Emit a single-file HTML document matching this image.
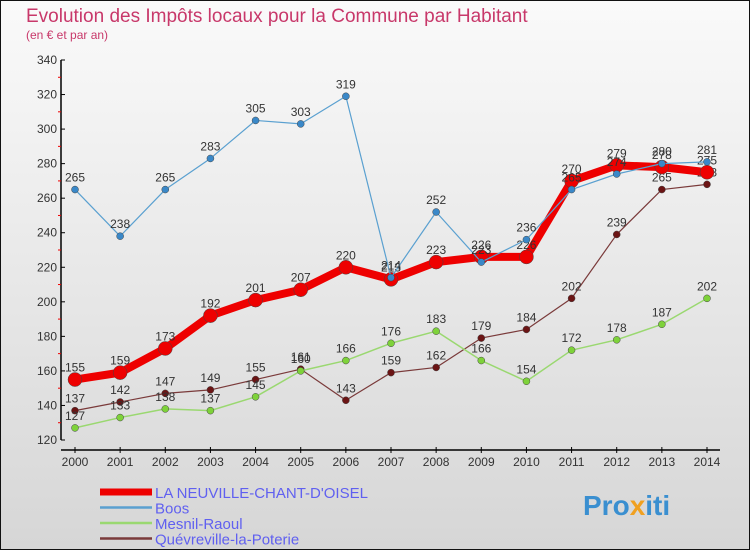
<!DOCTYPE html>
<html><head><meta charset="utf-8"><style>
body{margin:0}
#c{width:750px;height:550px;position:relative;overflow:hidden;font-family:"Liberation Sans",sans-serif}
</style></head><body>
<div id="c">
<svg id="s" width="750" height="550" xmlns="http://www.w3.org/2000/svg">
<defs><linearGradient id="bg" x1="0" y1="0" x2="0" y2="1"><stop offset="0" stop-color="#fafafa"/><stop offset="1" stop-color="#d6d6d6"/></linearGradient></defs>
<rect x="0.5" y="0.5" width="749" height="549" fill="url(#bg)" stroke="#111"/>
<text x="26" y="22" font-size="19" fill="#c8386a">Evolution des Impôts locaux pour la Commune par Habitant</text>
<text x="26" y="39" font-size="12" fill="#c8386a">(en € et par an)</text>
<g id="axes"></g><g id="series"></g><g id="legend"></g>
<text x="583" y="515" font-size="28" font-weight="bold" fill="#3a8fd0">Pro<tspan fill="#f0a020">x</tspan>iti</text>
</svg></div>
<script>
const years=[2000,2001,2002,2003,2004,2005,2006,2007,2008,2009,2010,2011,2012,2013,2014];
const yTicks=[120,140,160,180,200,220,240,260,280,300,320,340];
const neuville=[155,159,173,192,201,207,220,213,223,226,226,270,279,278,275];
const boos=[265,238,265,283,305,303,319,214,252,223,236,265,274,280,281];
const mesnil=[127,133,138,137,145,160,166,176,183,166,154,172,178,187,202];
const quev=[137,142,147,149,155,161,143,159,162,179,184,202,239,265,268];
const NS="http://www.w3.org/2000/svg";
const X=i=>75+i*(707-75)/(years.length-1);
const Y=v=>440-(v-120)*(380/220);
function mk(t,a,p){const e=document.createElementNS(NS,t);for(const k in a)e.setAttribute(k,a[k]);p.appendChild(e);return e;}
const ax=document.getElementById('axes');
let l=mk('line',{x1:61,y1:Y(340),x2:61,y2:440,stroke:'#000','stroke-width':1.5},ax);


yTicks.forEach(v=>{
 mk('line',{x1:61,y1:Y(v),x2:65,y2:Y(v),stroke:'#000'},ax);
 if(v<340)mk('line',{x1:58,y1:Y(v+10),x2:61,y2:Y(v+10),stroke:'#e00'},ax);
 const t=mk('text',{x:57,y:Y(v)+4,'font-size':12,fill:'#333','text-anchor':'end'},ax);t.textContent=v;
 
 
});
l=mk('line',{x1:61,y1:450,x2:720,y2:450,stroke:'#000','stroke-width':1.5},ax);


years.forEach((y,i)=>{
 mk('line',{x1:X(i),y1:447,x2:X(i),y2:453,stroke:'#000'},ax);
 const t=mk('text',{x:X(i),y:466,'font-size':12,fill:'#333','text-anchor':'middle'},ax);t.textContent=y;
 
 
});
const S=[
 {n:'Quévreville-la-Poterie',d:quev,c:'#7a3a3a',m:'#6b1414',w:1.2,r:3.5,k:'quevreville'},
 {n:'Mesnil-Raoul',d:mesnil,c:'#9ad870',m:'#7ed23a',w:1.5,r:3.5,k:'mesnil-raoul'},
 {n:'LA NEUVILLE-CHANT-D\'OISEL',d:neuville,c:'#ee0000',m:'#ee0000',w:8,r:7,k:'la-neuville'},
 {n:'Boos',d:boos,c:'#5aa0d0',m:'#3a88c8',w:1.2,r:3.5,k:'boos'}];
const sg=document.getElementById('series');
S.forEach(s=>{
 const g=mk('g',{},sg);
 
 
 mk('polyline',{points:s.d.map((v,i)=>X(i)+','+Y(v)).join(' '),fill:'none',stroke:s.c,'stroke-width':s.w,'stroke-linejoin':'round'},g);
 s.d.forEach((v,i)=>{
  const p=mk('circle',{cx:X(i),cy:Y(v),r:s.r,fill:s.m,stroke:'#444','stroke-width':0.5},g);
  
  
  const t=mk('text',{x:X(i),y:Y(v)-8,'font-size':12,fill:'#333','text-anchor':'middle'},g);t.textContent=v;
  
  
 });
});
const lg=document.getElementById('legend');
const L=[S[2],S[3],S[1],S[0]];
L.forEach((s,i)=>{
 const y=492+i*15.5;
 const g=mk('g',{},lg);
 
 
 mk('line',{x1:100,y1:y,x2:152,y2:y,stroke:s.c,'stroke-width':i==0?7:2.5},g);
 const t=mk('text',{x:155,y:y+6,'font-size':15,fill:'#6060f0'},g);t.textContent=s.n;
});
</script></body></html>
